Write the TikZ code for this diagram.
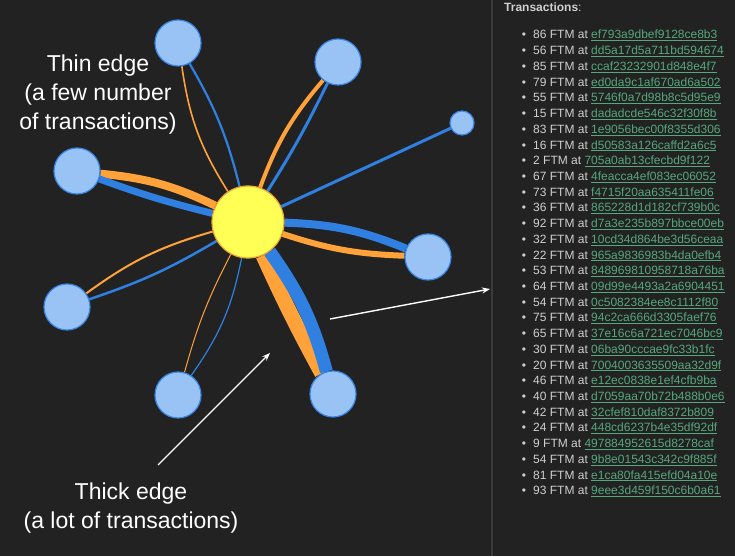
\documentclass[tikz,border=0pt]{standalone}
\usepackage{fontspec}
\setmainfont{Liberation Sans}
\usetikzlibrary{arrows.meta}
\definecolor{bgc}{HTML}{222222}
\definecolor{divc}{HTML}{3A3A3A}
\definecolor{oedge}{HTML}{FFA23A}
\definecolor{bedge}{HTML}{2F80E0}
\definecolor{nfill}{HTML}{99C3F5}
\definecolor{nborder}{HTML}{3A86E6}
\definecolor{cfill}{HTML}{FFFF55}
\definecolor{cborder}{HTML}{F2A530}
\definecolor{itemc}{HTML}{D0D0D0}
\definecolor{linkc}{HTML}{56A87C}
\pgfdeclarelayer{back}
\pgfdeclarelayer{edges}
\pgfsetlayers{back,edges,main}
\tikzset{
  outer/.style={circle, inner sep=0pt, minimum size=46pt, fill=nfill, draw=nborder, line width=1.2pt},
  small/.style={circle, inner sep=0pt, minimum size=24pt, fill=nfill, draw=nborder, line width=1.2pt},
  center/.style={circle, inner sep=0pt, minimum size=72pt, fill=cfill, draw=cborder, line width=1.2pt},
  oe/.style={draw=oedge},
  be/.style={draw=bedge},
  label/.style={text=white, align=center, inner sep=0pt, font=\fontsize{23}{29}\selectfont},
  pointer/.style={draw=white, line width=1.4pt, -{Stealth[length=8pt,width=6pt]}},
  itemtext/.style={anchor=base west, inner sep=0pt, text=itemc, font=\fontsize{12}{14}\selectfont},
  bulletnode/.style={anchor=base, inner sep=0pt, text=itemc, font=\fontsize{12}{14}\selectfont}
}
\begin{document}
\begin{tikzpicture}[x=1pt,y=1pt]
\begin{pgfonlayer}{back}
\fill[bgc] (0,0) rectangle (735,556);
\end{pgfonlayer}
\useasboundingbox (0,0) rectangle (735,556);
\draw[divc, line width=1.5pt] (492,0) -- (492,556);

% graph nodes
\node[center] (O) at (248,334) {};
\node[outer] (A) at (178,513) {};
\node[outer] (B) at (338,494) {};
\node[small] (C) at (462,433) {};
\node[outer] (D) at (77,385) {};
\node[outer] (E) at (428,299) {};
\node[outer] (F) at (333,162) {};
\node[outer] (G) at (178,161) {};
\node[outer] (H) at (67,249) {};

\begin{pgfonlayer}{edges}
\draw[oe, line width=1.6pt] (O) to[bend left=12] (A);
\draw[be, line width=2.2pt] (O) to[bend right=8] (A);
\draw[oe, line width=4pt] (O) to[bend left=10] (B);
\draw[be, line width=3pt] (O) to[bend right=3] (B);
\draw[be, line width=3pt] (O) -- (C);
\draw[oe, line width=8pt] (O) to[bend right=10] (D);
\draw[be, line width=7pt] (O) to[bend left=3] (D);
\draw[be, line width=8pt] (O) to[bend left=10] (E);
\draw[oe, line width=6pt] (O) to[bend right=8] (E);
\draw[oe, line width=15pt] (O) to[bend right=2] (F);
\draw[be, line width=13pt] (O) to[bend left=10] (F);
\draw[oe, line width=1pt] (O) to[bend right=6] (G);
\draw[be, line width=1.2pt] (O) to[bend left=12] (G);
\draw[oe, line width=2pt] (O) to[bend right=10] (H);
\draw[be, line width=2.5pt] (O) to[bend left=6] (H);
\end{pgfonlayer}

% annotations
\node[label] (thin) at (98,461) {Thin edge\\(a few number\\of transactions)};
\node[label] (thick) at (131,48) {Thick edge\\(a lot of transactions)};
\coordinate (p1s) at (158,91);
\coordinate (p1e) at (270,203);
\coordinate (p2s) at (330,237);
\coordinate (p2e) at (490,267);
\draw[pointer] (p1s) -- (p1e);
\draw[pointer] (p2s) -- (p2e);

% transactions panel
\node[anchor=base west, inner sep=0pt, text=itemc, font=\fontsize{12}{14}\selectfont] (title) at (504,544) {\textbf{Transactions}:};
\foreach \amt/\hash [count=\i] in {
86/ef793a9dbef9128ce8b3, 56/dd5a17d5a711bd594674, 85/ccaf23232901d848e4f7,
79/ed0da9c1af670ad6a502, 55/5746f0a7d98b8c5d95e9, 15/dadadcde546c32f30f8b,
83/1e9056bec00f8355d306, 16/d50583a126caffd2a6c5, 2/705a0ab13cfecbd9f122,
67/4feacca4ef083ec06052, 73/f4715f20aa635411fe06, 36/865228d1d182cf739b0c,
92/d7a3e235b897bbce00eb, 32/10cd34d864be3d56ceaa, 22/965a9836983b4da0efb4,
53/848969810958718a76ba, 64/09d99e4493a2a6904451, 54/0c5082384ee8c1112f80,
75/94c2ca666d3305faef76, 65/37e16c6a721ec7046bc9, 30/06ba90cccae9fc33b1fc,
20/7004003635509aa32d9f, 46/e12ec0838e1ef4cfb9ba, 40/d7059aa70b72b488b0e6,
42/32cfef810daf8372b809, 24/448cd6237b4e35df92df, 9/497884952615d8278caf,
54/9b8e01543c342c9f885f, 81/e1ca80fa415efd04a10e, 93/9eee3d459f150c6b0a61}{
  \pgfmathsetmacro\yy{517-(\i-1)*15.72}
  \node[bulletnode] (b\i) at (524,\yy) {\textbullet};
  \node[itemtext] (t\i) at (533,\yy) {\amt{} FTM at {\color{linkc}\underline{\hash}}};
}
\end{tikzpicture}
\end{document}
